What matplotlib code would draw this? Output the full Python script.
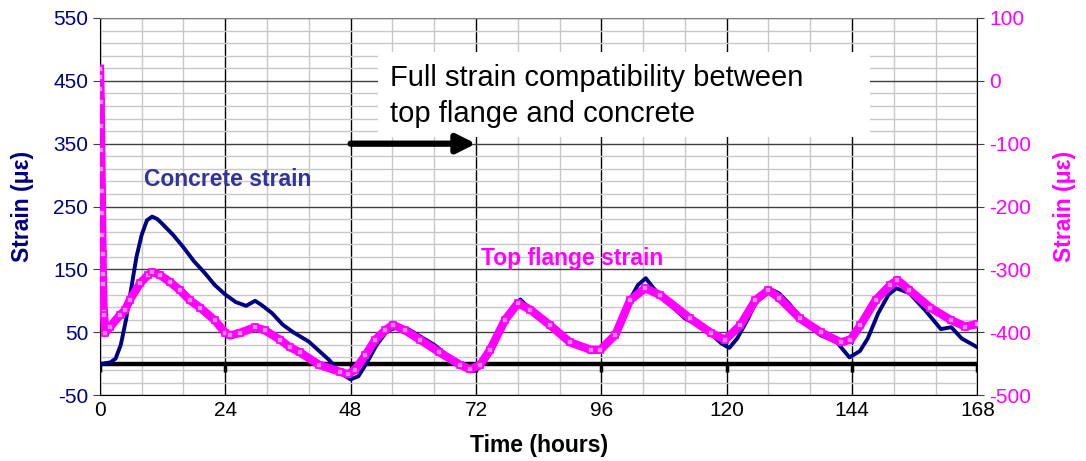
import matplotlib
matplotlib.use('Agg')
import matplotlib.pyplot as plt
import numpy as np
from matplotlib.patches import Rectangle

plt.rcParams['font.family'] = ['Liberation Sans', 'DejaVu Sans']
plt.rcParams['axes.unicode_minus'] = False

# concrete strain (left axis, microstrain) vs time (hours)
conc_t = [0.5, 2, 3, 4, 5, 6, 7, 8, 9, 10, 11, 12, 14, 16, 18, 20, 22, 24, 26, 28, 29.7, 31, 33, 35, 37,
          40, 42, 44, 46, 48, 49.5, 51, 53, 55, 57, 59, 61, 64, 67, 70, 71.5, 73, 75, 77, 79, 80.5, 82,
          85, 88, 91, 93, 95, 97, 99, 101, 103, 104.5, 106, 109, 112, 116, 119, 120.5, 122, 124, 126,
          128, 130, 132, 135, 138, 141, 143.5, 145.5, 147, 149, 151, 152.5, 155, 158, 161, 163, 165, 168]
conc_s = [0, 2, 8, 30, 70, 120, 170, 205, 228, 234, 230, 222, 205, 185, 163, 145, 125, 110, 98, 92, 100,
          93, 80, 62, 50, 35, 20, 5, -15, -25, -20, 0, 30, 52, 58, 55, 45, 30, 10, -5, -12, -5, 20, 55,
          90, 102, 90, 72, 50, 30, 22, 20, 28, 55, 95, 125, 136, 120, 95, 72, 55, 32, 25, 40, 70, 105,
          120, 112, 95, 65, 45, 35, 10, 20, 40, 80, 110, 120, 112, 85, 55, 58, 40, 26]

# top flange strain (right axis, microstrain)
flange_t = [0, 0.05, 0.1, 0.15, 0.2, 0.25, 0.3, 0.35, 0.4, 0.45, 0.5, 0.55, 0.6, 0.7, 0.8, 1.0,
            1.9, 3.8, 4.8, 5.7, 7.7, 9.2, 10, 11.5, 13.4, 15.3, 17.2, 19.2, 22, 24, 25, 26.8, 29.7,
            31.6, 34.5, 36.4, 38.3, 42, 46, 47.5, 48.8, 50.8, 52.7, 54.6, 56.1, 58.4, 61.3, 65, 69,
            70.9, 72.8, 74.7, 77.6, 80, 82.4, 86.2, 90, 94, 95.8, 98.7, 101.5, 104.4, 107.3, 113, 117,
            119.7, 122.6, 125.5, 128, 130, 134, 138, 141.8, 143.7, 145.6, 148.5, 151.3, 152.7, 155,
            159, 163, 165.7, 168]
flange_s = [19, 6, -13, -34, -72, -110, -140, -175, -210, -245, -276, -307, -323, -368, -373, -401,
            -392, -373, -365, -349, -322, -309, -304, -309, -320, -333, -349, -361, -381, -401, -405,
            -401, -392, -397, -412, -424, -432, -452, -463, -467, -460, -437, -412, -397, -388, -397,
            -412, -432, -452, -459, -452, -428, -380, -354, -364, -389, -416, -428, -428, -404, -349,
            -330, -341, -378, -401, -412, -389, -349, -333, -345, -378, -400, -416, -412, -389, -349,
            -325, -317, -333, -361, -381, -391, -387]

x_major = np.arange(0, 169, 24)
navy = '#000080'
mag = '#ff00ff'

fig = plt.figure(figsize=(10.86, 4.61), dpi=100)
ax = fig.add_axes([0.092, 0.143, 0.808, 0.818])

ax.set_xlim(0, 168)
ax.set_ylim(-50, 550)
ax.set_xticks(x_major)
ax.set_xticks(np.arange(0, 169, 8), minor=True)
ax.set_yticks(np.arange(-50, 551, 100))
ax.set_yticks(np.arange(-50, 551, 20), minor=True)
ax.grid(which='minor', color='#c8c8c8', lw=1, zorder=0)
ax.grid(which='major', axis='y', color='#404040', lw=1)
ax.grid(which='major', axis='x', color='black', lw=1)
ax.set_axisbelow(True)
ax.tick_params(axis='x', which='both', length=0, labelsize=15, pad=4)
ax.tick_params(axis='y', which='major', direction='out', length=5, labelsize=15,
               labelcolor=navy, color='#404040')
ax.tick_params(axis='y', which='minor', length=0)
for s in ax.spines.values():
    s.set_color('black')
ax.spines['top'].set_color('#808080')

# zero line with its little tick marks
ax.axhline(0, color='black', lw=3.2, zorder=3)
ax.vlines(x_major, -14, 0, color='black', lw=2.5, zorder=3)

ax.plot(conc_t, conc_s, color=navy, lw=2.8, zorder=4)

ax.set_xlabel('Time (hours)', fontsize=16.5, fontweight='bold', labelpad=10)
ax.set_ylabel('Strain (\u03bc\u03b5)', fontsize=16.5, fontweight='bold', color=navy, labelpad=14)

ax.text(8.5, 283, 'Concrete strain', fontsize=16.5, fontweight='bold', color='#333399', zorder=5)
ax.text(73, 157, 'Top flange strain', fontsize=16.5, fontweight='bold', color=mag, zorder=5)

# white text box and arrow
ax.add_patch(Rectangle((53.3, 361), 94.2, 135, facecolor='white', edgecolor='none', zorder=2))
ax.text(55.6, 477, 'Full strain compatibility between\ntop flange and concrete', fontsize=21,
        va='top', ha='left', linespacing=1.35, zorder=3)
ax.annotate('', xy=(72, 350), xytext=(48, 350),
            arrowprops=dict(arrowstyle='-|>', lw=4.5, color='black', mutation_scale=28,
                            shrinkA=0, shrinkB=0), zorder=3)

ax2 = ax.twinx()
ax2.set_ylim(-500, 100)
ax2.set_yticks(np.arange(-500, 101, 100))
ax2.tick_params(axis='y', direction='out', length=5, labelsize=15, labelcolor=mag, color='#404040')
ax2.plot(flange_t, flange_s, color=mag, lw=6, zorder=5)
ax2.plot(flange_t, flange_s, ls='none', marker='s', ms=4.5, mfc='#ff88ff', mec=mag, mew=1.2, zorder=6)
ax2.set_ylabel('Strain (\u03bc\u03b5)', fontsize=16.5, fontweight='bold', color=mag, rotation=90, labelpad=16)
for s in ax2.spines.values():
    s.set_visible(False)

fig.savefig('out.png', dpi=100)
